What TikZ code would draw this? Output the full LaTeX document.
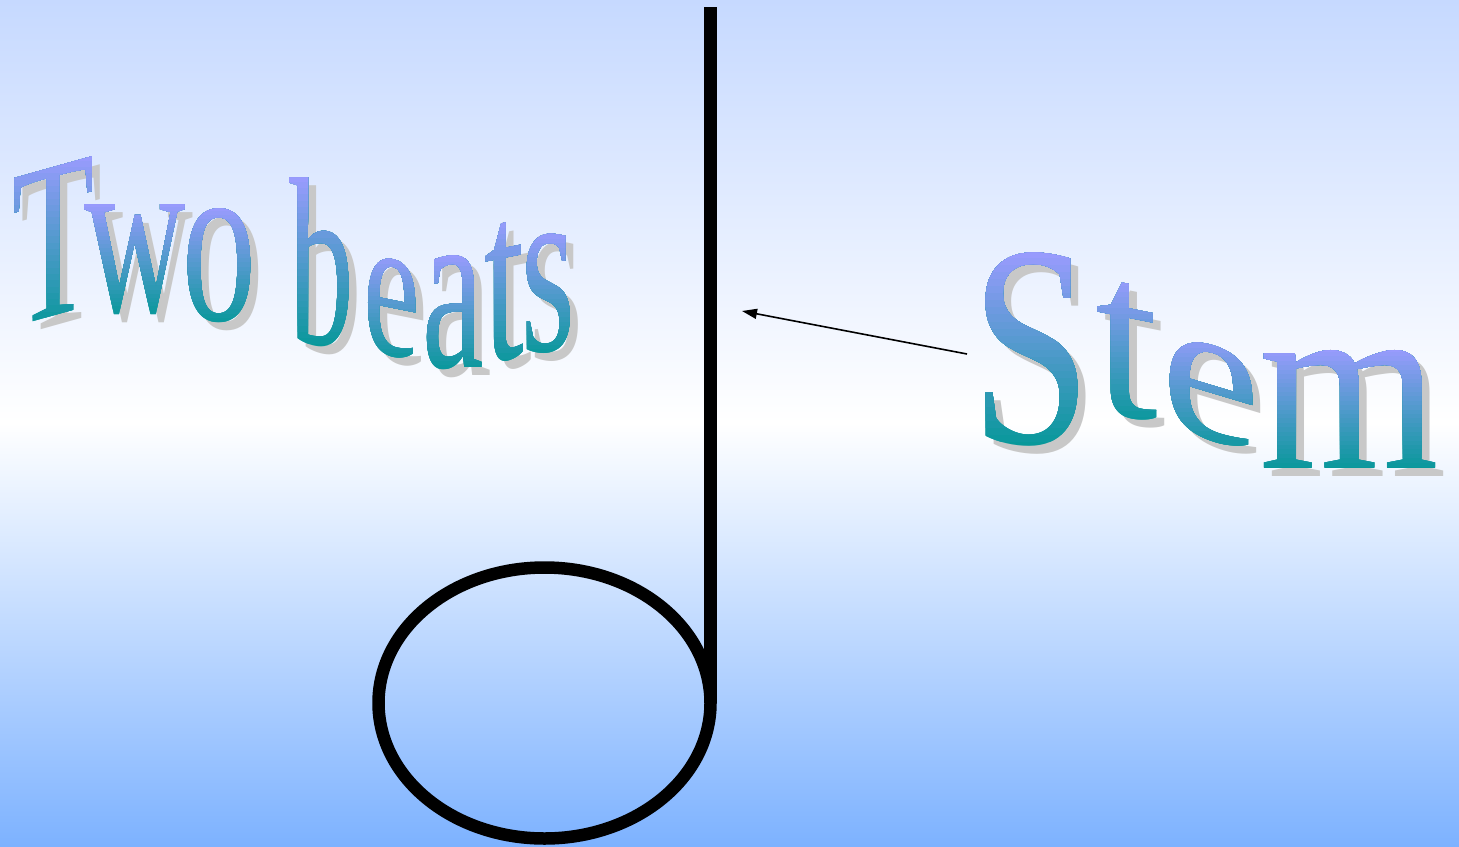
\documentclass[tikz,border=0pt]{standalone}
\usepackage{fontspec}
\usepackage{graphicx}
\usetikzlibrary{arrows.meta,shapes.geometric}
\newfontfamily\wafont{Liberation Serif}
\definecolor{bgtop}{RGB}{198,217,255}
\definecolor{bgbot}{RGB}{125,178,255}
\definecolor{wtop}{RGB}{155,155,255}
\definecolor{wbot}{RGB}{5,152,152}
\definecolor{shadowgray}{RGB}{200,200,200}
\tikzset{
  glyph/.style={inner sep=0pt, outer sep=0pt, anchor=center},
  notestroke/.style={line width=12.5pt, draw=black},
  pointer/.style={line width=1.6pt, -{Triangle[length=15pt,width=10pt]}},
}
% #1 name, #2 left, #3 top, #4 right, #5 bottom, #6 slant, #7 ink/advance ratio, #8 letter
\newcommand\wl[8]{%
  \pgfmathsetmacro\wlcx{(#2+#4)/2}%
  \pgfmathsetmacro\wlcy{(#3+#5)/2}%
  \pgfmathsetmacro\wlW{(#4-#2)/#7}%
  \pgfmathsetmacro\wlH{(#5-#3)-abs(#6)*(#4-#2)}%
  \pgfmathsetmacro\wlhalf{(#5-#3)/2+3}%
  \node[glyph, text=shadowgray, yslant=#6] (#1-shadow) at (\wlcx+8,\wlcy+8) {\resizebox*{\wlW pt}{\wlH pt}{\wafont #8}};
  \foreach \i in {28,27,...,1}{
    \pgfmathsetmacro\wlpct{100*(\i-0.5)/28}
    \pgfmathsetmacro\wlcut{\wlcy-\wlhalf+2*\wlhalf*\i/28}
    \begin{scope}
      \clip (#2-20,\wlcy-\wlhalf) rectangle (#4+20,\wlcut);
      \node[glyph, text=wbot!\wlpct!wtop, yslant=#6] (#1) at (\wlcx,\wlcy) {\resizebox*{\wlW pt}{\wlH pt}{\wafont #8}};
    \end{scope}
  }
}
\begin{document}
\begin{tikzpicture}[x=1pt,y=-1pt]
\useasboundingbox (0,0) rectangle (1459,846);
\shade[top color=bgtop, bottom color=bgbot, middle color=white] (0,0) rectangle (1459,846);

% Two beats
\wl{l1}{15}{157}{92}{327}{0.28}{0.94}{T}
\wl{l2}{85}{205}{185}{315}{0}{0.99}{w}
\wl{l3}{187}{209}{252}{323}{0}{0.88}{o}
\wl{l4}{292}{178}{352}{347}{0}{0.93}{b}
\wl{l5}{366}{254}{417}{362}{-0.2}{0.9}{e}
\wl{l6}{425}{256}{481}{370}{0}{0.91}{a}
\wl{l7}{485}{220}{523}{366}{0.2}{0.96}{t}
\wl{l8}{527}{232}{569}{355}{0.1}{0.78}{s}

% Stem
\wl{s1}{983}{253}{1080}{446}{0}{0.81}{S}
\wl{s2}{1097}{278}{1157}{424}{-0.2}{0.96}{t}
\wl{s3}{1166}{332}{1255}{455}{-0.3}{0.9}{e}
\wl{s4}{1262}{350}{1437}{468}{0}{0.975}{m}

% half note
\node[ellipse, notestroke, minimum width=332pt, minimum height=271pt, inner sep=0pt, outer sep=0pt] (head) at (544.5,703) {};
\coordinate (stemtop) at (710.5,7);
\draw[notestroke] (stemtop) -- (head.east);

% pointer
\coordinate (arrowfrom) at (967,354);
\coordinate (arrowto) at (742,311);
\draw[pointer] (arrowfrom) -- (arrowto);
\end{tikzpicture}
\end{document}
